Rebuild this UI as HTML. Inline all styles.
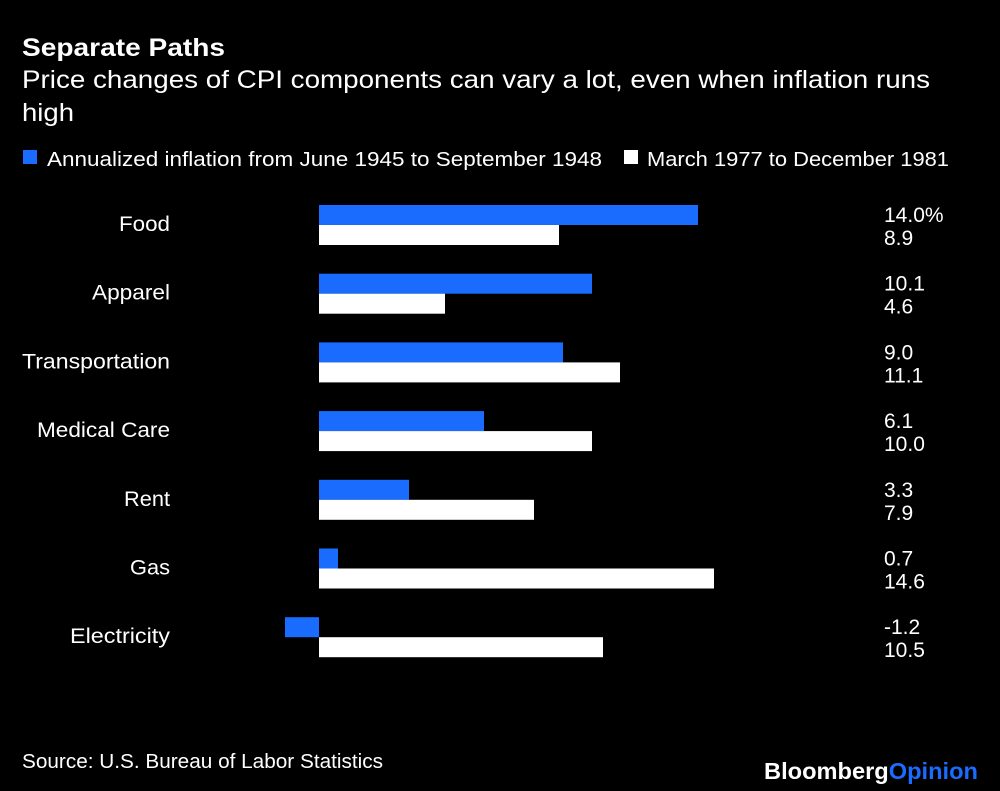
<!DOCTYPE html>
<html><head><meta charset="utf-8"><style>
body{margin:0;background:#000;}
svg{display:block;font-family:"Liberation Sans",Arial,sans-serif;}
</style></head><body>
<svg width="1000" height="791" viewBox="0 0 1000 791">
<rect width="1000" height="791" fill="#000"/>
<text x="22" y="56" fill="#fff" font-size="25" font-weight="bold" textLength="203" lengthAdjust="spacingAndGlyphs">Separate Paths</text>
<text x="22" y="88" fill="#fff" font-size="25" textLength="908" lengthAdjust="spacingAndGlyphs">Price changes of CPI components can vary a lot, even when inflation runs</text>
<text x="22" y="121" fill="#fff" font-size="25" textLength="52" lengthAdjust="spacingAndGlyphs">high</text>
<rect x="23" y="150" width="14" height="14" fill="#1a6cff"/>
<text x="47" y="166" fill="#fff" font-size="20" textLength="555" lengthAdjust="spacingAndGlyphs">Annualized inflation from June 1945 to September 1948</text>
<rect x="624" y="150" width="14" height="14" fill="#fff"/>
<text x="647" y="166" fill="#fff" font-size="20" textLength="302" lengthAdjust="spacingAndGlyphs">March 1977 to December 1981</text>
<g font-size="21" fill="#fff">
<g transform="translate(0,205)">
<text x="170" y="26" text-anchor="end" textLength="51" lengthAdjust="spacingAndGlyphs">Food</text>
<rect x="319" y="0" width="379" height="20" fill="#1a6cff"/><rect x="319" y="20" width="240" height="20" fill="#fff"/>
<text x="884" y="17">14.0%</text><text x="884" y="40">8.9</text></g>
<g transform="translate(0,273.7)">
<text x="170" y="26" text-anchor="end" textLength="78" lengthAdjust="spacingAndGlyphs">Apparel</text>
<rect x="319" y="0" width="273" height="20" fill="#1a6cff"/><rect x="319" y="20" width="126" height="20" fill="#fff"/>
<text x="884" y="17">10.1</text><text x="884" y="40">4.6</text></g>
<g transform="translate(0,342.4)">
<text x="170" y="26" text-anchor="end" textLength="148" lengthAdjust="spacingAndGlyphs">Transportation</text>
<rect x="319" y="0" width="244" height="20" fill="#1a6cff"/><rect x="319" y="20" width="301" height="20" fill="#fff"/>
<text x="884" y="17">9.0</text><text x="884" y="40">11.1</text></g>
<g transform="translate(0,411.1)">
<text x="170" y="26" text-anchor="end" textLength="133" lengthAdjust="spacingAndGlyphs">Medical Care</text>
<rect x="319" y="0" width="165" height="20" fill="#1a6cff"/><rect x="319" y="20" width="273" height="20" fill="#fff"/>
<text x="884" y="17">6.1</text><text x="884" y="40">10.0</text></g>
<g transform="translate(0,479.8)">
<text x="170" y="26" text-anchor="end" textLength="46" lengthAdjust="spacingAndGlyphs">Rent</text>
<rect x="319" y="0" width="90" height="20" fill="#1a6cff"/><rect x="319" y="20" width="215" height="20" fill="#fff"/>
<text x="884" y="17">3.3</text><text x="884" y="40">7.9</text></g>
<g transform="translate(0,548.5)">
<text x="170" y="26" text-anchor="end" textLength="40" lengthAdjust="spacingAndGlyphs">Gas</text>
<rect x="319" y="0" width="19" height="20" fill="#1a6cff"/><rect x="319" y="20" width="395" height="20" fill="#fff"/>
<text x="884" y="17">0.7</text><text x="884" y="40">14.6</text></g>
<g transform="translate(0,617.2)">
<text x="170" y="26" text-anchor="end" textLength="100" lengthAdjust="spacingAndGlyphs">Electricity</text>
<rect x="285" y="0" width="34" height="20" fill="#1a6cff"/><rect x="319" y="20" width="284" height="20" fill="#fff"/>
<text x="884" y="17">-1.2</text><text x="884" y="40">10.5</text></g>
</g>
<text x="22" y="768" fill="#fff" font-size="20" textLength="361" lengthAdjust="spacingAndGlyphs">Source: U.S. Bureau of Labor Statistics</text>
<text x="764" y="779" fill="#fff" font-size="23" font-weight="bold" textLength="214" lengthAdjust="spacingAndGlyphs">Bloomberg<tspan fill="#1a6cff">Opinion</tspan></text>
</svg>
</body></html>
